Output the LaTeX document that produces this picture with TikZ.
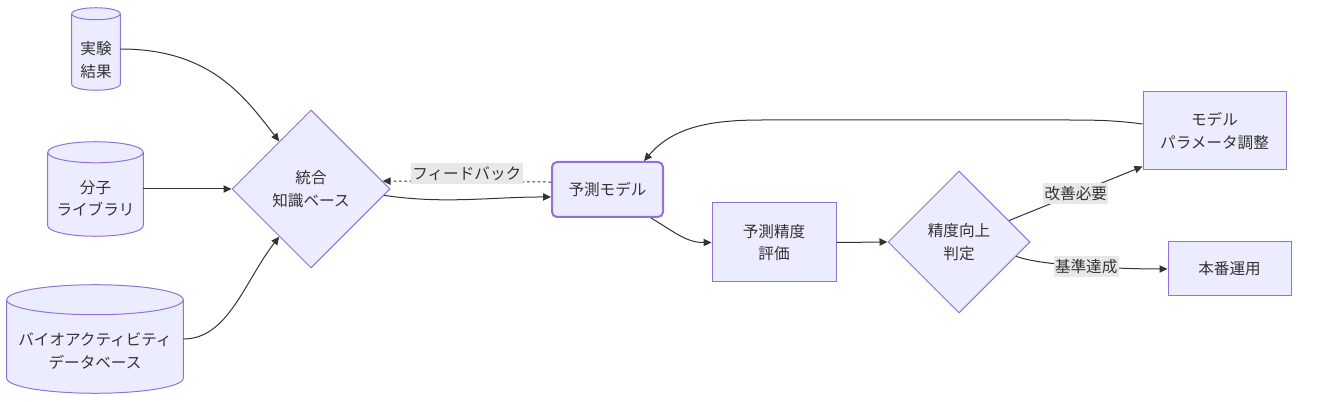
\documentclass[tikz,border=0pt]{standalone}
\usepackage{fontspec}
\setmainfont{Noto Sans CJK JP}
\usetikzlibrary{positioning, arrows.meta, calc, shapes.geometric, backgrounds}
\definecolor{nodefill}{HTML}{ECECFF}
\definecolor{nodeline}{HTML}{9370DB}
\definecolor{inkgray}{HTML}{333333}
\definecolor{labelbg}{HTML}{E8E8E8}
\tikzset{
  procbox/.style={
    draw=nodeline, fill=nodefill, line width=0.75pt,
    align=center, text=inkgray, inner sep=0pt
  },
  modelbox/.style={procbox, rounded corners=3.75pt, line width=1.5pt},
  decision/.style={
    diamond, draw=nodeline, fill=nodefill, line width=0.75pt,
    align=center, text=inkgray, inner sep=0pt
  },
  dbbox/.style={inner sep=0pt},
  dbline/.style={draw=nodeline, fill=nodefill, line width=0.75pt},
  dbtext/.style={align=center, text=inkgray},
  flow/.style={-{Triangle[length=6pt,width=5.5pt]}, draw=inkgray, line width=0.75pt},
  backflow/.style={flow, dash pattern=on 2pt off 2pt},
  edgelabel/.style={fill=labelbg, text=inkgray, inner xsep=1pt, inner ysep=2.5pt},
}
% cylinder outline round a node: #1 node, #2 radius of the end ellipse
\newcommand{\dbcyl}[2]{%
  \begin{scope}[on background layer]
    \path[dbline] let \p1=(#1.north west), \p2=(#1.south east),
        \n1={0.5*(\x2-\x1)} in
      (\x1,\y1-#2) -- (\x1,\y2+#2)
      arc[start angle=180, end angle=360, x radius=\n1, y radius=#2]
      -- (\x2,\y1-#2)
      arc[start angle=0, end angle=180, x radius=\n1, y radius=#2]
      (\x1,\y1-#2)
      arc[start angle=180, end angle=360, x radius=\n1, y radius=#2];
  \end{scope}}

\begin{document}
\begin{tikzpicture}[x=0.75pt, y=-0.75pt, font=\fontsize{11.7}{17}\selectfont]
  \useasboundingbox (0,0) rectangle (1323,402);

  % data sources
  \node[dbbox, minimum width=36pt, minimum height=61.5pt,
        label={[dbtext, yshift=-8.25pt]center:{実験\\結果}}] (exp) at (96,49) {};
  \dbcyl{exp}{4.5pt}
  \node[dbbox, minimum width=71.25pt, minimum height=70.5pt,
        label={[dbtext, yshift=-7pt]center:{分子\\ライブラリ}}] (lib) at (95.5,189) {};
  \dbcyl{lib}{7.9pt}
  \node[dbbox, minimum width=132pt, minimum height=81pt,
        label={[dbtext, yshift=-9pt]center:{バイオアクティビティ\\データベース}}] (bio) at (95,339) {};
  \dbcyl{bio}{11.25pt}

  \node[decision, minimum width=118.5pt, minimum height=118.5pt] (kb) at (311,189) {統合\\知識ベース};
  \node[modelbox, minimum width=83.25pt, minimum height=41.25pt] (model) at (607.5,189.5) {予測モデル};
  \node[procbox, minimum width=93pt, minimum height=59.25pt] (eval) at (774,242.5) {予測精度\\評価};
  \node[decision, minimum width=106.5pt, minimum height=106.5pt] (judge) at (959,242) {精度向上\\判定};
  \node[procbox, minimum width=107.25pt, minimum height=58.5pt] (tune) at (1214.5,131) {モデル\\パラメータ調整};
  \node[procbox, minimum width=92.25pt, minimum height=40.5pt] (deploy) at (1229.5,269) {本番運用};

  \draw[flow] (exp.east) .. controls +(90,0) and +(-35,-45) .. ($(kb.west)!0.6!(kb.north)$);
  \draw[flow] (lib.east) -- (kb.west);
  \draw[flow] (bio.east) .. controls +(45,0) and +(-35,45) .. ($(kb.west)!0.6!(kb.south)$);
  \draw[flow] ($(kb.east)!0.08!(kb.south)$) .. controls +(60,9) and +(-60,0) .. ([yshift=-5.6pt]model.west);
  \draw[backflow] ([yshift=5.6pt]model.west) -- ($(kb.east)!0.1!(kb.north)$)
    node[edgelabel, midway, yshift=6pt] (fbl) {フィードバック};
  \draw[flow] ($(model.south east)+(-13,0)$) .. controls +(25,15) and +(-25,0) .. (eval.west);
  \draw[flow] (eval.east) -- (judge.west);
  \draw[flow] ($(judge.east)!0.3!(judge.north)$) -- ($(tune.south west)+(0,-4)$)
    node[edgelabel, midway] (nol) {改善必要};
  \draw[flow] ($(judge.east)!0.2!(judge.south)$) .. controls +(25,10) and +(-40,0) .. (deploy.west)
    node[edgelabel, pos=0.5] (okl) {基準達成};
  \draw[flow] ([yshift=5.25pt]tune.west) .. controls +(-30,-4) and +(30,0) .. ++(-80,-4)
    -- ++(-300,0) .. controls +(-50,0) and +(30,-35) .. ($(model.north east)+(-20,0)$);
\end{tikzpicture}
\end{document}
